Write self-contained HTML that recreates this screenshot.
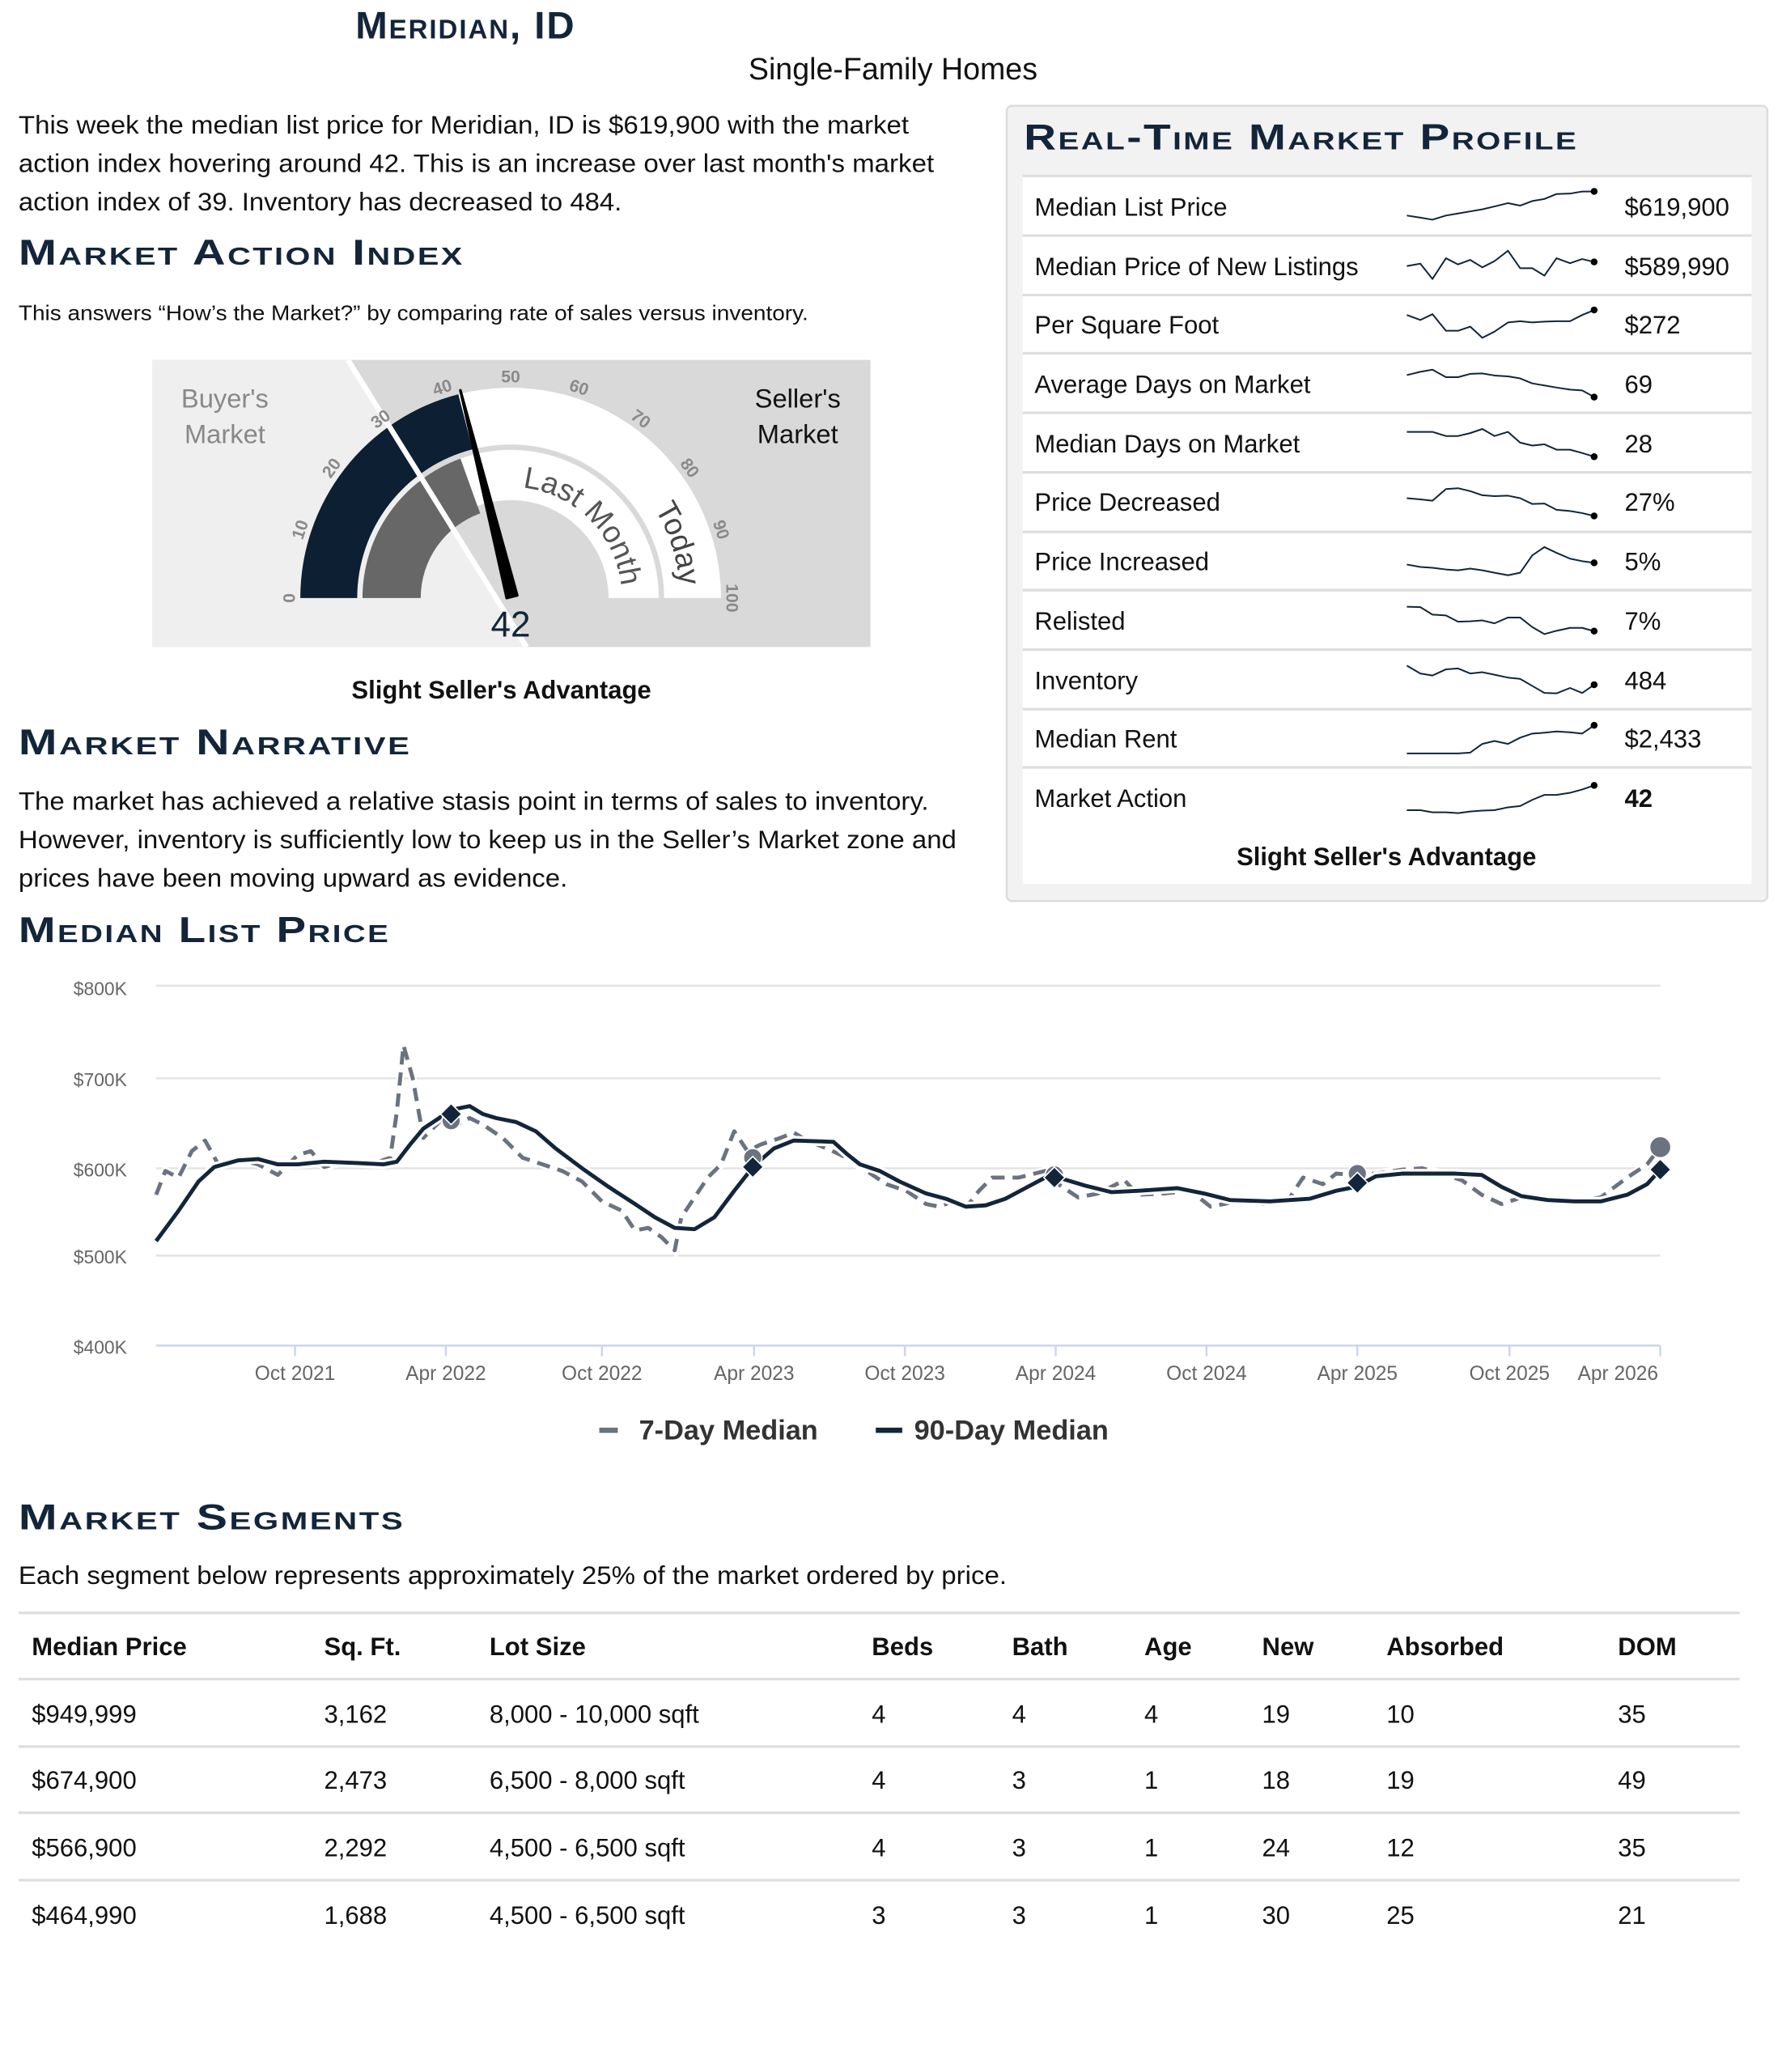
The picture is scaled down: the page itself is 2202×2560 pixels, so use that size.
<!DOCTYPE html>
<html><head><meta charset="utf-8"><style>
html,body{margin:0;padding:0;background:#fff;}
svg{display:block;}
text{font-family:"Liberation Sans",sans-serif;}
.h{font-weight:bold;font-variant:small-caps;fill:#13253a;font-size:27px;letter-spacing:1.2px;}
.p{font-size:19px;fill:#111;}
.tk{font-size:13px;font-weight:bold;fill:#8a8a8a;}
.ax{font-size:14px;fill:#666;}
.rw{font-size:19px;fill:#111;}
</style></head><body>
<svg width="2202" height="2560" viewBox="0 0 1347 1566" xmlns="http://www.w3.org/2000/svg">
<rect width="1347" height="1566" fill="#fff"/>
<text x="352" y="29" text-anchor="middle" class="h" style="font-size:29px">Meridian, ID</text>
<text x="675" y="60" text-anchor="middle" style="font-size:23px;fill:#111">Single-Family Homes</text>
<text class="p" x="14" y="101" textLength="673" lengthAdjust="spacingAndGlyphs">This week the median list price for Meridian, ID is $619,900 with the market</text>
<text class="p" x="14" y="130" textLength="692" lengthAdjust="spacingAndGlyphs">action index hovering around 42. This is an increase over last month's market</text>
<text class="p" x="14" y="159" textLength="456" lengthAdjust="spacingAndGlyphs">action index of 39. Inventory has decreased to 484.</text>
<text class="h" x="14" y="200" textLength="337" lengthAdjust="spacingAndGlyphs">Market Action Index</text>
<text x="14" y="242" style="font-size:16px;fill:#111" textLength="597" lengthAdjust="spacingAndGlyphs">This answers “How’s the Market?” by comparing rate of sales versus inventory.</text>

<rect x="115" y="272" width="543" height="217" fill="#d9d9d9"/>
<polygon points="115,272 263,272 398,489 115,489" fill="#efefef"/>
<path d="M227,452 A159,159 0 0 1 346.5,298 L357.2,339.6 A116,116 0 0 0 270,452 Z" fill="#0d1f33"/>
<path d="M346.5,298 A159,159 0 0 1 545,452 L502,452 A116,116 0 0 0 357.2,339.6 Z" fill="#fff"/>
<path d="M274,452 A112,112 0 0 1 348.1,346.6 L363,388 A68,68 0 0 0 318,452 Z" fill="#676767"/>
<path d="M348.1,346.6 A112,112 0 0 1 498,452 L460,452 A74,74 0 0 0 360.9,382.4 Z" fill="#fff"/>
<line x1="263" y1="272" x2="398" y2="489" stroke="#fff" stroke-width="4"/>
<defs>
<path id="lm" d="M386,368 A84,84 0 0 1 470,452"/>
<path id="td" d="M461.2,348.4 A128,128 0 0 1 507.7,491.6"/>
</defs>
<text style="font-size:23px;fill:#555"><textPath href="#lm" startOffset="50%" text-anchor="middle">Last Month</textPath></text>
<text style="font-size:23px;fill:#444"><textPath href="#td" startOffset="50%" text-anchor="middle">Today</textPath></text>
<polygon points="348,295 383,452 391,450" fill="#000" stroke="#000" stroke-width="2" stroke-linejoin="round"/>
<g class="tk" text-anchor="middle">
<text x="386" y="289" transform="rotate(-90,386,452)">0</text>
<text x="386" y="289" transform="rotate(-72,386,452)">10</text>
<text x="386" y="289" transform="rotate(-54,386,452)">20</text>
<text x="386" y="289" transform="rotate(-36,386,452)">30</text>
<text x="386" y="289" transform="rotate(-18,386,452)">40</text>
<text x="386" y="289">50</text>
<text x="386" y="289" transform="rotate(18,386,452)">60</text>
<text x="386" y="289" transform="rotate(36,386,452)">70</text>
<text x="386" y="289" transform="rotate(54,386,452)">80</text>
<text x="386" y="289" transform="rotate(72,386,452)">90</text>
<text x="386" y="289" transform="rotate(90,386,452)">100</text>
</g>
<text x="170" y="308" text-anchor="middle" style="font-size:20px;fill:#888">Buyer's</text>
<text x="170" y="335" text-anchor="middle" style="font-size:20px;fill:#888">Market</text>
<text x="603" y="308" text-anchor="middle" style="font-size:20px;fill:#111">Seller's</text>
<text x="603" y="335" text-anchor="middle" style="font-size:20px;fill:#111">Market</text>
<text x="386" y="481" text-anchor="middle" style="font-size:27px;fill:#13253a">42</text>
<text x="379" y="528" text-anchor="middle" style="font-size:19px;font-weight:bold;fill:#111">Slight Seller's Advantage</text>

<text class="h" x="14" y="570" textLength="297" lengthAdjust="spacingAndGlyphs">Market Narrative</text>
<text class="p" x="14" y="612" textLength="688" lengthAdjust="spacingAndGlyphs">The market has achieved a relative stasis point in terms of sales to inventory.</text>
<text class="p" x="14" y="641" textLength="709" lengthAdjust="spacingAndGlyphs">However, inventory is sufficiently low to keep us in the Seller’s Market zone and</text>
<text class="p" x="14" y="670" textLength="415" lengthAdjust="spacingAndGlyphs">prices have been moving upward as evidence.</text>
<text class="h" x="14" y="712" textLength="281" lengthAdjust="spacingAndGlyphs">Median List Price</text>

<rect x="761" y="80" width="575" height="601" rx="4" fill="#f2f2f2" stroke="#dcdcdc" stroke-width="1.5"/>
<text class="h" x="774" y="113" textLength="419" lengthAdjust="spacingAndGlyphs">Real-Time Market Profile</text>
<rect x="773" y="133" width="551" height="535" fill="#fff"/>
<g stroke="#dedede" stroke-width="2">
<line x1="773" y1="133" x2="1324" y2="133"/><line x1="773" y1="178" x2="1324" y2="178"/>
<line x1="773" y1="223" x2="1324" y2="223"/><line x1="773" y1="267" x2="1324" y2="267"/>
<line x1="773" y1="312" x2="1324" y2="312"/><line x1="773" y1="357" x2="1324" y2="357"/>
<line x1="773" y1="402" x2="1324" y2="402"/><line x1="773" y1="446" x2="1324" y2="446"/>
<line x1="773" y1="491" x2="1324" y2="491"/><line x1="773" y1="536" x2="1324" y2="536"/>
<line x1="773" y1="580" x2="1324" y2="580"/>
</g>
<g class="rw">
<text x="782" y="163">Median List Price</text><text x="1228" y="163">$619,900</text>
<text x="782" y="208">Median Price of New Listings</text><text x="1228" y="208">$589,990</text>
<text x="782" y="252">Per Square Foot</text><text x="1228" y="252">$272</text>
<text x="782" y="297">Average Days on Market</text><text x="1228" y="297">69</text>
<text x="782" y="342">Median Days on Market</text><text x="1228" y="342">28</text>
<text x="782" y="386">Price Decreased</text><text x="1228" y="386">27%</text>
<text x="782" y="431">Price Increased</text><text x="1228" y="431">5%</text>
<text x="782" y="476">Relisted</text><text x="1228" y="476">7%</text>
<text x="782" y="521">Inventory</text><text x="1228" y="521">484</text>
<text x="782" y="565">Median Rent</text><text x="1228" y="565">$2,433</text>
<text x="782" y="610">Market Action</text><text x="1228" y="610" font-weight="bold">42</text>
</g>
<text x="1048" y="654" text-anchor="middle" style="font-size:19px;font-weight:bold;fill:#111">Slight Seller's Advantage</text>
<g transform="translate(1052.2,128.46) scale(0.2039,0.3132)" fill="none" stroke="#13253a" stroke-width="2" stroke-linejoin="round">
<polyline vector-effect="non-scaling-stroke" points="55,110 105,115 150,120 200,110 245,105 290,100 335,95 380,88 430,80 475,86 520,75 565,70 610,58 660,57 705,52 750,52"/>
<polyline vector-effect="non-scaling-stroke" points="55,232 105,226 150,263 200,213 245,228 290,217 335,235 380,220 430,195 475,237 520,237 565,255 610,213 660,225 705,215 750,222"/>
<polyline vector-effect="non-scaling-stroke" points="55,350 105,362 150,348 200,388 245,388 290,378 335,405 380,390 430,368 475,365 520,368 565,366 610,365 660,365 705,350 750,338"/>
<polyline vector-effect="non-scaling-stroke" points="55,495 105,487 150,482 200,500 245,500 290,492 335,491 380,496 430,498 475,503 520,515 565,520 610,525 660,530 705,532 750,548"/>
<polyline vector-effect="non-scaling-stroke" points="55,632 105,632 150,632 200,642 245,642 290,635 335,625 380,642 430,632 475,658 520,665 565,662 610,675 660,675 705,683 750,692"/>
<polyline vector-effect="non-scaling-stroke" points="55,792 105,795 150,798 200,770 245,768 290,775 335,785 380,787 430,786 475,792 520,806 565,805 610,820 660,823 705,828 750,835"/>
<polyline vector-effect="non-scaling-stroke" points="55,952 105,958 150,960 200,964 245,966 290,962 335,966 380,972 430,978 475,972 520,930 565,910 610,924 660,938 705,944 750,948"/>
<polyline vector-effect="non-scaling-stroke" points="55,1054 105,1055 150,1073 200,1075 245,1090 290,1089 335,1087 380,1094 430,1080 475,1080 520,1103 565,1120 610,1112 660,1105 705,1105 750,1113"/>
<polyline vector-effect="non-scaling-stroke" points="55,1196 105,1215 150,1220 200,1205 245,1203 290,1215 335,1212 380,1218 430,1225 475,1228 520,1245 565,1262 610,1263 660,1250 705,1262 750,1242"/>
<polyline vector-effect="non-scaling-stroke" points="55,1408 105,1408 150,1408 200,1408 245,1408 290,1406 335,1385 380,1378 430,1385 475,1370 520,1360 565,1358 610,1355 660,1357 705,1360 750,1340"/>
<polyline vector-effect="non-scaling-stroke" points="55,1545 105,1545 150,1550 200,1550 245,1552 290,1548 335,1546 380,1545 430,1538 475,1535 520,1520 565,1508 610,1508 660,1503 705,1495 750,1485"/>
</g>
<g fill="#000">
<circle cx="1205" cy="144.7" r="2.6"/><circle cx="1205" cy="198" r="2.6"/><circle cx="1205" cy="234.3" r="2.6"/>
<circle cx="1205" cy="300.1" r="2.6"/><circle cx="1205" cy="345.2" r="2.6"/><circle cx="1205" cy="390" r="2.6"/>
<circle cx="1205" cy="425.4" r="2.6"/><circle cx="1205" cy="477" r="2.6"/><circle cx="1205" cy="517.5" r="2.6"/>
<circle cx="1205" cy="548.2" r="2.6"/><circle cx="1205" cy="593.6" r="2.6"/>
</g>

<g stroke="#e3e3e3" stroke-width="1.5">
<line x1="118" y1="745" x2="1255" y2="745"/><line x1="118" y1="815" x2="1255" y2="815"/>
<line x1="118" y1="883" x2="1255" y2="883"/><line x1="118" y1="949" x2="1255" y2="949"/>
</g>
<line x1="118" y1="1017" x2="1255" y2="1017" stroke="#ccd6eb" stroke-width="1.5"/>
<g stroke="#ccd6eb" stroke-width="1.5">
<line x1="223" y1="1017" x2="223" y2="1025"/><line x1="337" y1="1017" x2="337" y2="1025"/>
<line x1="455" y1="1017" x2="455" y2="1025"/><line x1="570" y1="1017" x2="570" y2="1025"/>
<line x1="684" y1="1017" x2="684" y2="1025"/><line x1="798" y1="1017" x2="798" y2="1025"/>
<line x1="912" y1="1017" x2="912" y2="1025"/><line x1="1026" y1="1017" x2="1026" y2="1025"/>
<line x1="1141" y1="1017" x2="1141" y2="1025"/><line x1="1255" y1="1017" x2="1255" y2="1025"/>
</g>
<g class="ax" text-anchor="end">
<text x="96" y="752">$800K</text><text x="96" y="821">$700K</text><text x="96" y="889">$600K</text>
<text x="96" y="955">$500K</text><text x="96" y="1023">$400K</text>
</g>
<g class="ax" text-anchor="middle" style="font-size:15px">
<text x="223" y="1043">Oct 2021</text><text x="337" y="1043">Apr 2022</text><text x="455" y="1043">Oct 2022</text>
<text x="570" y="1043">Apr 2023</text><text x="684" y="1043">Oct 2023</text><text x="798" y="1043">Apr 2024</text>
<text x="912" y="1043">Oct 2024</text><text x="1026" y="1043">Apr 2025</text><text x="1141" y="1043">Oct 2025</text>
<text x="1223" y="1043">Apr 2026</text>
</g>
<polyline fill="none" stroke="#fff" stroke-width="6" points="118,903 125,885 135,890 145,870 155,862 165,880 180,876 195,880 210,888 225,873 235,870 245,882 260,878 280,880 295,875 300,840 305,790 312,815 320,860 335,845 345,850 355,845 365,850 380,860 395,875 410,880 425,885 440,893 455,908 470,915 480,930 490,928 500,935 510,945 515,920 525,905 535,890 545,880 555,855 565,870 575,865 590,860 600,856 610,862 625,868 640,875 655,885 670,895 685,900 700,910 710,912 720,908 730,913 740,900 750,890 770,890 790,885 800,895 815,905 830,902 850,892 860,903 880,902 900,900 915,912 935,908 955,910 975,905 985,890 1000,895 1010,887 1025,888 1040,887 1060,884 1075,883 1090,887 1105,892 1120,903 1135,910 1150,905 1170,908 1190,908 1210,905 1230,890 1245,880 1255,867"/>
<polyline fill="none" stroke="#6b7280" stroke-width="3" stroke-dasharray="10,6" stroke-linejoin="round" points="118,903 125,885 135,890 145,870 155,862 165,880 180,876 195,880 210,888 225,873 235,870 245,882 260,878 280,880 295,875 300,840 305,790 312,815 320,860 335,845 345,850 355,845 365,850 380,860 395,875 410,880 425,885 440,893 455,908 470,915 480,930 490,928 500,935 510,945 515,920 525,905 535,890 545,880 555,855 565,870 575,865 590,860 600,856 610,862 625,868 640,875 655,885 670,895 685,900 700,910 710,912 720,908 730,913 740,900 750,890 770,890 790,885 800,895 815,905 830,902 850,892 860,903 880,902 900,900 915,912 935,908 955,910 975,905 985,890 1000,895 1010,887 1025,888 1040,887 1060,884 1075,883 1090,887 1105,892 1120,903 1135,910 1150,905 1170,908 1190,908 1210,905 1230,890 1245,880 1255,867"/>
<polyline fill="none" stroke="#fff" stroke-width="7" stroke-linejoin="round" points="118,938 135,915 150,893 162,882 180,877 195,876 210,880 225,880 245,878 270,879 290,880 300,878 310,865 320,853 335,843 345,838 355,836 365,842 375,845 390,848 405,855 420,868 440,883 460,897 480,910 495,920 510,928 525,929 540,920 555,900 570,881 585,868 600,862 630,863 640,872 650,880 665,885 680,893 700,902 715,906 730,912 745,911 760,906 775,898 790,890 800,890 820,896 840,901 860,900 890,898 910,902 930,907 960,908 990,906 1010,900 1025,897 1040,889 1060,887 1080,887 1100,887 1120,888 1135,897 1150,904 1170,907 1190,908 1210,908 1230,903 1245,895 1255,884"/>
<polyline fill="none" stroke="#13253a" stroke-width="3" stroke-linejoin="round" points="118,938 135,915 150,893 162,882 180,877 195,876 210,880 225,880 245,878 270,879 290,880 300,878 310,865 320,853 335,843 345,838 355,836 365,842 375,845 390,848 405,855 420,868 440,883 460,897 480,910 495,920 510,928 525,929 540,920 555,900 570,881 585,868 600,862 630,863 640,872 650,880 665,885 680,893 700,902 715,906 730,912 745,911 760,906 775,898 790,890 800,890 820,896 840,901 860,900 890,898 910,902 930,907 960,908 990,906 1010,900 1025,897 1040,889 1060,887 1080,887 1100,887 1120,888 1135,897 1150,904 1170,907 1190,908 1210,908 1230,903 1245,895 1255,884"/>
<g fill="#6b7280" stroke="#fff" stroke-width="1">
<circle cx="341" cy="847" r="7"/><circle cx="569" cy="875" r="7"/><circle cx="797" cy="888" r="7"/><circle cx="1026" cy="887" r="7"/><circle cx="1255" cy="867" r="8"/>
</g>
<g fill="#13253a" stroke="#fff" stroke-width="1">
<polygon points="341,834 349,842 341,850 333,842"/><polygon points="569,874 577,882 569,890 561,882"/>
<polygon points="797,882 805,890 797,898 789,890"/><polygon points="1026,886 1034,894 1026,902 1018,894"/>
<polygon points="1255,876 1263,884 1255,892 1247,884"/>
</g>
<line x1="453" y1="1081" x2="467" y2="1081" stroke="#6b7280" stroke-width="4"/>
<text x="483" y="1088" style="font-size:21px;font-weight:bold;fill:#333">7-Day Median</text>
<line x1="662" y1="1081" x2="682" y2="1081" stroke="#13253a" stroke-width="4"/>
<text x="691" y="1088" style="font-size:21px;font-weight:bold;fill:#333">90-Day Median</text>

<text class="h" x="14" y="1156" textLength="292" lengthAdjust="spacingAndGlyphs">Market Segments</text>
<text class="p" x="14" y="1197" textLength="747" lengthAdjust="spacingAndGlyphs">Each segment below represents approximately 25% of the market ordered by price.</text>
<g stroke="#dedede" stroke-width="2">
<line x1="14" y1="1219" x2="1315" y2="1219"/><line x1="14" y1="1269" x2="1315" y2="1269"/>
<line x1="14" y1="1320" x2="1315" y2="1320"/><line x1="14" y1="1370" x2="1315" y2="1370"/>
<line x1="14" y1="1421" x2="1315" y2="1421"/>
</g>
<g class="rw" font-weight="bold">
<text x="24" y="1251">Median Price</text><text x="245" y="1251">Sq. Ft.</text><text x="370" y="1251">Lot Size</text>
<text x="659" y="1251">Beds</text><text x="765" y="1251">Bath</text><text x="865" y="1251">Age</text>
<text x="954" y="1251">New</text><text x="1048" y="1251">Absorbed</text><text x="1223" y="1251">DOM</text>
</g>
<g class="rw">
<text x="24" y="1302">$949,999</text><text x="245" y="1302">3,162</text><text x="370" y="1302">8,000 - 10,000 sqft</text>
<text x="659" y="1302">4</text><text x="765" y="1302">4</text><text x="865" y="1302">4</text><text x="954" y="1302">19</text><text x="1048" y="1302">10</text><text x="1223" y="1302">35</text>
<text x="24" y="1352">$674,900</text><text x="245" y="1352">2,473</text><text x="370" y="1352">6,500 - 8,000 sqft</text>
<text x="659" y="1352">4</text><text x="765" y="1352">3</text><text x="865" y="1352">1</text><text x="954" y="1352">18</text><text x="1048" y="1352">19</text><text x="1223" y="1352">49</text>
<text x="24" y="1403">$566,900</text><text x="245" y="1403">2,292</text><text x="370" y="1403">4,500 - 6,500 sqft</text>
<text x="659" y="1403">4</text><text x="765" y="1403">3</text><text x="865" y="1403">1</text><text x="954" y="1403">24</text><text x="1048" y="1403">12</text><text x="1223" y="1403">35</text>
<text x="24" y="1454">$464,990</text><text x="245" y="1454">1,688</text><text x="370" y="1454">4,500 - 6,500 sqft</text>
<text x="659" y="1454">3</text><text x="765" y="1454">3</text><text x="865" y="1454">1</text><text x="954" y="1454">30</text><text x="1048" y="1454">25</text><text x="1223" y="1454">21</text>
</g>
</svg>
</body></html>
